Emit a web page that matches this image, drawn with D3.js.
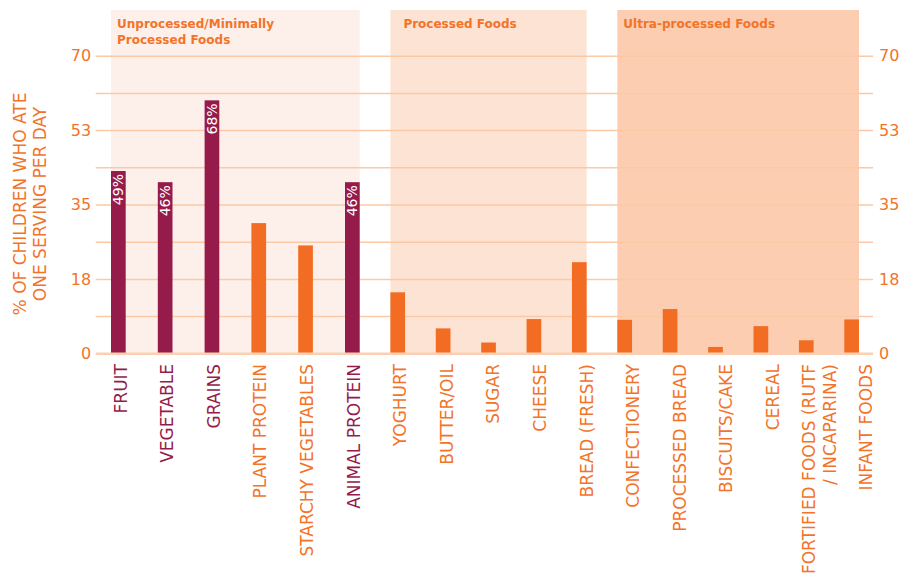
<!DOCTYPE html>
<html>
<head>
<meta charset="utf-8">
<script src="https://cdn.jsdelivr.net/npm/d3@7"></script>
<style>
  html, body { margin: 0; padding: 0; background: #ffffff; }
  svg { display: block; font-family: "DejaVu Sans", sans-serif; }
</style>
</head>
<body>
<svg id="chart" width="919" height="585"></svg>
<script>
// ---------- data ----------
const categories = [
  "FRUIT", "VEGETABLE", "GRAINS", "PLANT PROTEIN", "STARCHY VEGETABLES", "ANIMAL PROTEIN",
  "YOGHURT", "BUTTER/OIL", "SUGAR", "CHEESE", "BREAD (FRESH)",
  "CONFECTIONERY", "PROCESSED BREAD", "BISCUITS/CAKE", "CEREAL",
  "FORTIFIED FOODS (RUTF / INCAPARINA)", "INFANT FOODS"
];
const xLabelLines = [
  ["FRUIT"], ["VEGETABLE"], ["GRAINS"], ["PLANT PROTEIN"], ["STARCHY VEGETABLES"], ["ANIMAL PROTEIN"],
  ["YOGHURT"], ["BUTTER/OIL"], ["SUGAR"], ["CHEESE"], ["BREAD (FRESH)"],
  ["CONFECTIONERY"], ["PROCESSED BREAD"], ["BISCUITS/CAKE"], ["CEREAL"],
  ["FORTIFIED FOODS (RUTF", "/ INCAPARINA)"], ["INFANT FOODS"]
];
// % of children who ate one serving per day
const values = [49, 46, 68, 35, 29, 46, 16.4, 6.7, 2.9, 9.2, 24.5, 9.0, 11.9, 1.7, 7.3, 3.5, 9.1];
const barLabels = ["49%", "46%", "68%", "", "", "46%", "", "", "", "", "", "", "", "", "", "", ""];
const highlighted = ["FRUIT", "VEGETABLE", "GRAINS", "ANIMAL PROTEIN"];

const groupNames = [["Unprocessed/Minimally", "Processed Foods"], ["Processed Foods"], ["Ultra-processed Foods"]];
const groupFirst = ["FRUIT", "YOGHURT", "CONFECTIONERY"];
const groupLast = ["ANIMAL PROTEIN", "BREAD (FRESH)", "INFANT FOODS"];

const gridValues = [0, 10, 20, 30, 40, 50, 60, 70, 80];
const tickValues = [0, 20, 40, 60, 80];
const tickLabels = ["0", "18", "35", "53", "70"];
const yTitleLines = ["% OF CHILDREN WHO ATE", "ONE SERVING PER DAY"];

// ---------- styles ----------
const MAROON = "#951b4a";
const ORANGE = "#f26d23";
const TEXT_ORANGE = "#f37329";
const GRID = "#fbc9a6";
const groupFills = ["#fdf0ea", "#fde3d3", "#fccdb0"];
const titleInset = [6, 13, 6];
const BAR_W = 14.7;

const svg = d3.select("#chart");

const idx = d => categories.indexOf(d);
const xIndex = d3.scaleLinear()
  .domain([0, idx(groupLast[0]), categories.length - 1])
  .range([111, 345, 844.3]);
const x = d => xIndex(idx(d));
const xLabel = d3.scalePoint().domain(categories).range([120.5, 866]);
const y = d3.scaleLinear().domain([0, 80]).range([353.3, 55.7]);

// ---------- group bands ----------
const bands = svg.append("g");
groupNames.forEach((names, i) => {
  const x0 = x(groupFirst[i]);
  const x1 = x(groupLast[i]) + BAR_W;
  bands.append("rect")
    .attr("x", x0).attr("y", 10)
    .attr("width", x1 - x0).attr("height", y(0) - 10)
    .attr("fill", groupFills[i]);
  names.forEach((n, j) => {
    bands.append("text")
      .attr("x", x0 + titleInset[i])
      .attr("y", 28 + j * 16)
      .attr("font-size", 12)
      .attr("font-weight", "bold")
      .attr("fill", TEXT_ORANGE)
      .text(n);
  });
});

// ---------- gridlines ----------
const gridLeft = 95.7, gridRight = 873;
svg.append("g")
  .attr("transform", `translate(${gridLeft},0)`)
  .call(d3.axisRight(y).tickValues(gridValues.filter(v => v > 0)).tickSize(gridRight - gridLeft).tickFormat(""))
  .call(g => g.select(".domain").remove())
  .call(g => g.selectAll("line").attr("stroke", GRID).attr("stroke-width", 1.5));

// ---------- bars ----------
svg.append("g").selectAll("rect")
  .data(categories)
  .join("rect")
  .attr("x", d => x(d))
  .attr("y", (d, i) => y(values[i]))
  .attr("width", BAR_W)
  .attr("height", (d, i) => y(0) - y(values[i]))
  .attr("fill", d => highlighted.includes(d) ? MAROON : ORANGE);

// baseline
svg.append("line")
  .attr("x1", gridLeft).attr("x2", gridRight)
  .attr("y1", y(0) + 0.5).attr("y2", y(0) + 0.5)
  .attr("stroke", "#fccfb2").attr("stroke-width", 2.5);

// bar value labels
svg.append("g").selectAll("text")
  .data(categories.filter(d => barLabels[idx(d)] !== ""))
  .join("text")
  .attr("transform", d => `translate(${x(d) + BAR_W / 2},${y(values[idx(d)]) + 3}) rotate(-90)`)
  .attr("text-anchor", "end")
  .attr("dy", "0.36em")
  .attr("font-size", 14)
  .attr("fill", "#ffffff")
  .text(d => barLabels[idx(d)]);

// ---------- y axes ----------
function styleAxis(g) {
  g.select(".domain").remove();
  g.selectAll("line").remove();
  g.selectAll("text").attr("font-size", 16).attr("fill", TEXT_ORANGE).attr("font-family", "DejaVu Sans, sans-serif");
}
svg.append("g")
  .attr("transform", `translate(${gridLeft},0)`)
  .call(d3.axisLeft(y).tickValues(tickValues).tickFormat((d, i) => tickLabels[i]).tickSize(0).tickPadding(4.5))
  .call(styleAxis);
svg.append("g")
  .attr("transform", `translate(${gridRight},0)`)
  .call(d3.axisRight(y).tickValues(tickValues).tickFormat((d, i) => tickLabels[i]).tickSize(0).tickPadding(6))
  .call(styleAxis);

// y title
yTitleLines.forEach((t, j) => {
  svg.append("text")
    .attr("transform", `translate(${20 + j * 20},204) rotate(-90)`)
    .attr("text-anchor", "middle")
    .attr("dy", "0.36em")
    .attr("font-size", 17)
    .attr("fill", TEXT_ORANGE)
    .text(t);
});

// ---------- x labels ----------
const lineGap = 20.5;
const xl = svg.append("g").selectAll("g")
  .data(categories)
  .join("g")
  .attr("transform", d => `translate(${xLabel(d)},364) rotate(-90)`);
xl.each(function (d, i) {
  const lines = xLabelLines[i];
  const n = lines.length;
  lines.forEach((ln, j) => {
    d3.select(this).append("text")
      .attr("text-anchor", "end")
      .attr("y", (j - (n - 1) / 2) * lineGap)
      .attr("dy", "0.36em")
      .attr("font-size", 17)
      .attr("fill", highlighted.includes(d) ? MAROON : TEXT_ORANGE)
      .text(ln);
  });
});
</script>
</body>
</html>
